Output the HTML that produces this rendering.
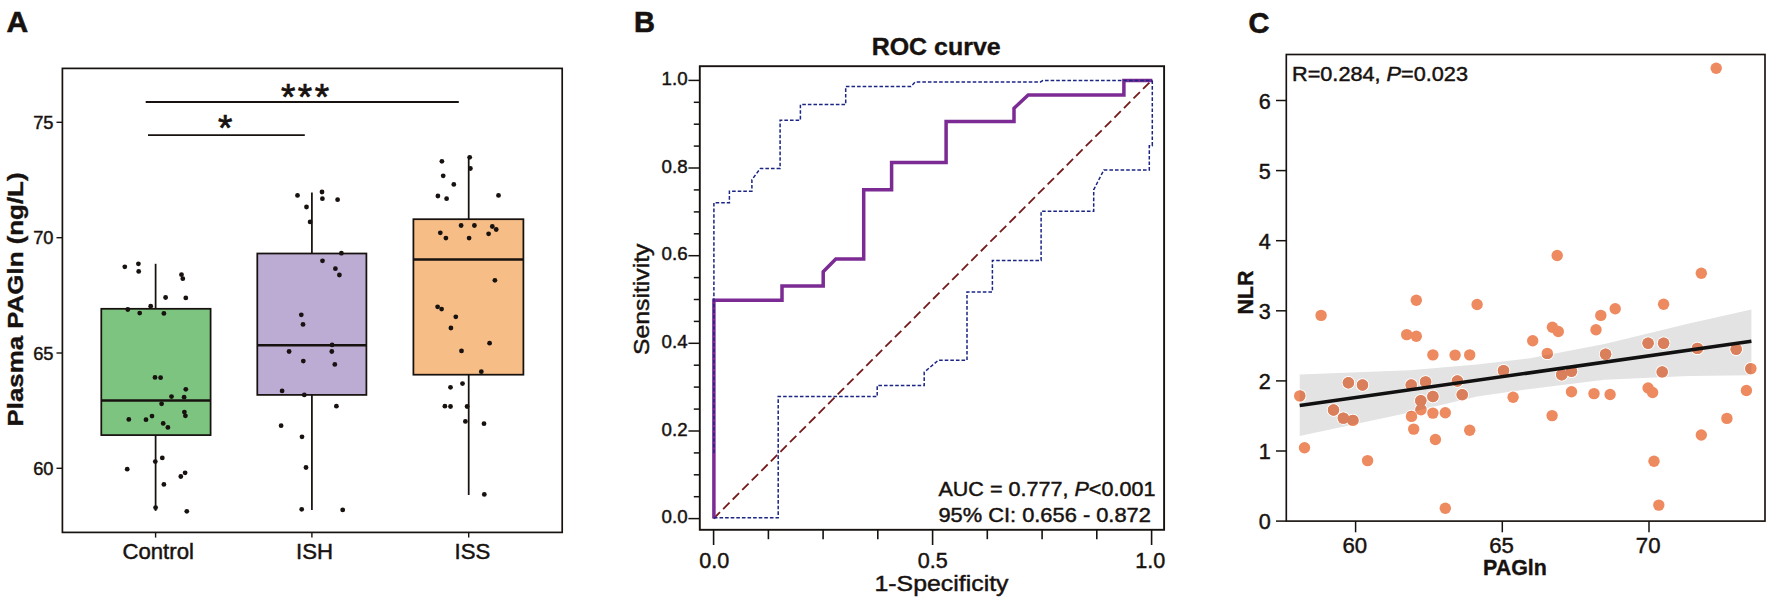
<!DOCTYPE html>
<html><head><meta charset="utf-8"><title>Figure</title>
<style>
html,body{margin:0;padding:0;background:#fff;}
body{width:1772px;height:604px;overflow:hidden;}
svg{display:block;font-family:"Liberation Sans",Arial,sans-serif;}
text{stroke:#17120f;stroke-width:0.45px;paint-order:stroke fill;}
text.b{stroke-width:0.35px;}
text.L{stroke-width:0.6px;}
</style></head><body>
<svg width="1772" height="604" viewBox="0 0 1772 604">
<rect width="1772" height="604" fill="#fff"/>

<g id="panelA" fill="#17120f">
<text x="6.5" y="32" font-size="30" font-weight="bold" class="L">A</text>
<rect x="62.4" y="68.4" width="499.8" height="464" fill="none" stroke="#17120f" stroke-width="1.7"/>
<line x1="56.5" x2="62.4" y1="122.3" y2="122.3" stroke="#17120f" stroke-width="1.4"/>
<text x="53.5" y="128.9" font-size="18.3" text-anchor="end">75</text>
<line x1="56.5" x2="62.4" y1="237.7" y2="237.7" stroke="#17120f" stroke-width="1.4"/>
<text x="53.5" y="244.29999999999998" font-size="18.3" text-anchor="end">70</text>
<line x1="56.5" x2="62.4" y1="353.0" y2="353.0" stroke="#17120f" stroke-width="1.4"/>
<text x="53.5" y="359.6" font-size="18.3" text-anchor="end">65</text>
<line x1="56.5" x2="62.4" y1="468.3" y2="468.3" stroke="#17120f" stroke-width="1.4"/>
<text x="53.5" y="474.90000000000003" font-size="18.3" text-anchor="end">60</text>
<line x1="155.6" x2="155.6" y1="532.4" y2="537.6" stroke="#17120f" stroke-width="1.4"/>
<line x1="311.9" x2="311.9" y1="532.4" y2="537.6" stroke="#17120f" stroke-width="1.4"/>
<line x1="468.7" x2="468.7" y1="532.4" y2="537.6" stroke="#17120f" stroke-width="1.4"/>
<text x="158.2" y="559" font-size="22.2" text-anchor="middle">Control</text>
<text x="314.6" y="559" font-size="22.2" text-anchor="middle">ISH</text>
<text x="472.5" y="559" font-size="22.2" text-anchor="middle">ISS</text>
<text transform="translate(22.6,299.5) rotate(-90)" font-size="21.4" font-weight="bold" class="b" text-anchor="middle" textLength="254" lengthAdjust="spacingAndGlyphs">Plasma PAGln (ng/L)</text>
<line x1="145.7" x2="458.8" y1="102" y2="102" stroke="#17120f" stroke-width="1.9"/>
<line x1="148" x2="304.8" y1="135.1" y2="135.1" stroke="#17120f" stroke-width="1.9"/>
<text x="280.9" y="110.4" font-size="37" letter-spacing="2.5" style="stroke-width:0.7px">***</text>
<text x="218" y="140.7" font-size="37" style="stroke-width:0.7px">*</text>
<line x1="155.6" x2="155.6" y1="263.8" y2="308.8" stroke="#17120f" stroke-width="1.75"/>
<line x1="155.6" x2="155.6" y1="435.1" y2="510.9" stroke="#17120f" stroke-width="1.75"/>
<rect x="101.3" y="308.8" width="109.3" height="126.30000000000001" fill="#7cc47f" stroke="#17120f" stroke-width="1.75"/>
<line x1="101.3" x2="210.6" y1="400.5" y2="400.5" stroke="#17120f" stroke-width="2.5"/>
<line x1="311.9" x2="311.9" y1="192.4" y2="253.5" stroke="#17120f" stroke-width="1.75"/>
<line x1="311.9" x2="311.9" y1="394.9" y2="509.9" stroke="#17120f" stroke-width="1.75"/>
<rect x="257.3" y="253.5" width="109.09999999999997" height="141.39999999999998" fill="#bcacd4" stroke="#17120f" stroke-width="1.75"/>
<line x1="257.3" x2="366.4" y1="345.2" y2="345.2" stroke="#17120f" stroke-width="2.5"/>
<line x1="468.7" x2="468.7" y1="156.6" y2="219.2" stroke="#17120f" stroke-width="1.75"/>
<line x1="468.7" x2="468.7" y1="374.7" y2="495" stroke="#17120f" stroke-width="1.75"/>
<rect x="413.4" y="219.2" width="110.0" height="155.5" fill="#f6bd86" stroke="#17120f" stroke-width="1.75"/>
<line x1="413.4" x2="523.4" y1="259.5" y2="259.5" stroke="#17120f" stroke-width="2.5"/>
<circle cx="124.8" cy="266.8" r="2.4"/>
<circle cx="138.4" cy="263.8" r="2.4"/>
<circle cx="138.7" cy="271.4" r="2.4"/>
<circle cx="181.5" cy="274.7" r="2.4"/>
<circle cx="182.8" cy="278.7" r="2.4"/>
<circle cx="165.6" cy="297.5" r="2.4"/>
<circle cx="185.8" cy="297.9" r="2.4"/>
<circle cx="150.7" cy="306.2" r="2.4"/>
<circle cx="127.8" cy="309.5" r="2.4"/>
<circle cx="139.7" cy="313.1" r="2.4"/>
<circle cx="163.9" cy="313.4" r="2.4"/>
<circle cx="155" cy="377.4" r="2.4"/>
<circle cx="160.6" cy="377.7" r="2.4"/>
<circle cx="185.8" cy="389.3" r="2.4"/>
<circle cx="171.5" cy="396.6" r="2.4"/>
<circle cx="184.1" cy="397.2" r="2.4"/>
<circle cx="161.6" cy="403.8" r="2.4"/>
<circle cx="184.4" cy="412.1" r="2.4"/>
<circle cx="185.4" cy="415.8" r="2.4"/>
<circle cx="152" cy="416.1" r="2.4"/>
<circle cx="128.8" cy="419.4" r="2.4"/>
<circle cx="146" cy="419.7" r="2.4"/>
<circle cx="163.2" cy="423.4" r="2.4"/>
<circle cx="167.9" cy="427.4" r="2.4"/>
<circle cx="127.2" cy="469.2" r="2.4"/>
<circle cx="155.3" cy="461.6" r="2.4"/>
<circle cx="162.3" cy="457.9" r="2.4"/>
<circle cx="185.1" cy="472.8" r="2.4"/>
<circle cx="180.8" cy="476.5" r="2.4"/>
<circle cx="163.9" cy="484.4" r="2.4"/>
<circle cx="155.6" cy="507.6" r="2.4"/>
<circle cx="186.8" cy="511.3" r="2.4"/>
<circle cx="341.4" cy="253.2" r="2.4"/>
<circle cx="322.5" cy="260.8" r="2.4"/>
<circle cx="335.4" cy="268.7" r="2.4"/>
<circle cx="339.4" cy="275" r="2.4"/>
<circle cx="301.3" cy="314.8" r="2.4"/>
<circle cx="303" cy="324.4" r="2.4"/>
<circle cx="332.1" cy="344.9" r="2.4"/>
<circle cx="289.1" cy="351.5" r="2.4"/>
<circle cx="331.8" cy="351.5" r="2.4"/>
<circle cx="303.3" cy="361.1" r="2.4"/>
<circle cx="334.8" cy="364.4" r="2.4"/>
<circle cx="282.1" cy="390.9" r="2.4"/>
<circle cx="304.3" cy="394.9" r="2.4"/>
<circle cx="336.4" cy="406.2" r="2.4"/>
<circle cx="281.1" cy="425.7" r="2.4"/>
<circle cx="302" cy="436.8" r="2.4"/>
<circle cx="306" cy="467.5" r="2.4"/>
<circle cx="301.7" cy="509.3" r="2.4"/>
<circle cx="342.7" cy="509.9" r="2.4"/>
<circle cx="297.5" cy="195.4" r="2.4"/>
<circle cx="322" cy="192" r="2.4"/>
<circle cx="322.4" cy="198.7" r="2.4"/>
<circle cx="337.6" cy="199.7" r="2.4"/>
<circle cx="306.5" cy="207" r="2.4"/>
<circle cx="310.1" cy="221.9" r="2.4"/>
<circle cx="441.9" cy="161.3" r="2.4"/>
<circle cx="469.7" cy="157.3" r="2.4"/>
<circle cx="470.4" cy="168.5" r="2.4"/>
<circle cx="443.2" cy="175.8" r="2.4"/>
<circle cx="453.8" cy="184.4" r="2.4"/>
<circle cx="437.9" cy="196" r="2.4"/>
<circle cx="446.6" cy="198.7" r="2.4"/>
<circle cx="498.5" cy="195.4" r="2.4"/>
<circle cx="461.1" cy="225.5" r="2.4"/>
<circle cx="474.4" cy="225.5" r="2.4"/>
<circle cx="492.3" cy="226.5" r="2.4"/>
<circle cx="496.2" cy="229.5" r="2.4"/>
<circle cx="440.3" cy="232.8" r="2.4"/>
<circle cx="488.6" cy="233.8" r="2.4"/>
<circle cx="445.9" cy="238.1" r="2.4"/>
<circle cx="469.1" cy="238.1" r="2.4"/>
<circle cx="494.9" cy="280.3" r="2.4"/>
<circle cx="437.6" cy="306.8" r="2.4"/>
<circle cx="441.6" cy="309.1" r="2.4"/>
<circle cx="455.8" cy="316.8" r="2.4"/>
<circle cx="450.9" cy="328" r="2.4"/>
<circle cx="489.6" cy="343.2" r="2.4"/>
<circle cx="461.5" cy="350.9" r="2.4"/>
<circle cx="481.3" cy="371.7" r="2.4"/>
<circle cx="462.5" cy="383.6" r="2.4"/>
<circle cx="450.5" cy="387.3" r="2.4"/>
<circle cx="444.9" cy="406.2" r="2.4"/>
<circle cx="450.5" cy="406.5" r="2.4"/>
<circle cx="467.1" cy="406.5" r="2.4"/>
<circle cx="465.4" cy="421.4" r="2.4"/>
<circle cx="484" cy="423.7" r="2.4"/>
<circle cx="484.3" cy="494.4" r="2.4"/>
</g>
<g id="panelB" fill="#17120f">
<text x="634" y="32" font-size="29" font-weight="bold" class="L">B</text>
<text x="936.2" y="55.3" font-size="23" font-weight="bold" class="b" text-anchor="middle" textLength="129" lengthAdjust="spacingAndGlyphs">ROC curve</text>
<rect x="699.8" y="66.2" width="464.3" height="463.6" fill="none" stroke="#17120f" stroke-width="1.9"/>
<line x1="688.4" x2="699.8" y1="518.6" y2="518.6" stroke="#17120f" stroke-width="1.5"/>
<text x="687.6" y="523.2" font-size="19" text-anchor="end" textLength="26" lengthAdjust="spacingAndGlyphs">0.0</text>
<line x1="693.8" x2="699.8" y1="496.7" y2="496.7" stroke="#17120f" stroke-width="1.5"/>
<line x1="693.8" x2="699.8" y1="474.8" y2="474.8" stroke="#17120f" stroke-width="1.5"/>
<line x1="693.8" x2="699.8" y1="452.9" y2="452.9" stroke="#17120f" stroke-width="1.5"/>
<line x1="688.4" x2="699.8" y1="431.0" y2="431.0" stroke="#17120f" stroke-width="1.5"/>
<text x="687.6" y="435.6" font-size="19" text-anchor="end" textLength="26" lengthAdjust="spacingAndGlyphs">0.2</text>
<line x1="693.8" x2="699.8" y1="409.1" y2="409.1" stroke="#17120f" stroke-width="1.5"/>
<line x1="693.8" x2="699.8" y1="387.1" y2="387.1" stroke="#17120f" stroke-width="1.5"/>
<line x1="693.8" x2="699.8" y1="365.2" y2="365.2" stroke="#17120f" stroke-width="1.5"/>
<line x1="688.4" x2="699.8" y1="343.3" y2="343.3" stroke="#17120f" stroke-width="1.5"/>
<text x="687.6" y="347.9" font-size="19" text-anchor="end" textLength="26" lengthAdjust="spacingAndGlyphs">0.4</text>
<line x1="693.8" x2="699.8" y1="321.4" y2="321.4" stroke="#17120f" stroke-width="1.5"/>
<line x1="693.8" x2="699.8" y1="299.5" y2="299.5" stroke="#17120f" stroke-width="1.5"/>
<line x1="693.8" x2="699.8" y1="277.6" y2="277.6" stroke="#17120f" stroke-width="1.5"/>
<line x1="688.4" x2="699.8" y1="255.7" y2="255.7" stroke="#17120f" stroke-width="1.5"/>
<text x="687.6" y="260.3" font-size="19" text-anchor="end" textLength="26" lengthAdjust="spacingAndGlyphs">0.6</text>
<line x1="693.8" x2="699.8" y1="233.8" y2="233.8" stroke="#17120f" stroke-width="1.5"/>
<line x1="693.8" x2="699.8" y1="211.9" y2="211.9" stroke="#17120f" stroke-width="1.5"/>
<line x1="693.8" x2="699.8" y1="189.9" y2="189.9" stroke="#17120f" stroke-width="1.5"/>
<line x1="688.4" x2="699.8" y1="168.0" y2="168.0" stroke="#17120f" stroke-width="1.5"/>
<text x="687.6" y="172.6" font-size="19" text-anchor="end" textLength="26" lengthAdjust="spacingAndGlyphs">0.8</text>
<line x1="693.8" x2="699.8" y1="146.1" y2="146.1" stroke="#17120f" stroke-width="1.5"/>
<line x1="693.8" x2="699.8" y1="124.2" y2="124.2" stroke="#17120f" stroke-width="1.5"/>
<line x1="693.8" x2="699.8" y1="102.3" y2="102.3" stroke="#17120f" stroke-width="1.5"/>
<line x1="688.4" x2="699.8" y1="80.4" y2="80.4" stroke="#17120f" stroke-width="1.5"/>
<text x="687.6" y="85.0" font-size="19" text-anchor="end" textLength="26" lengthAdjust="spacingAndGlyphs">1.0</text>
<line x1="713.6" x2="713.6" y1="529.8" y2="545" stroke="#17120f" stroke-width="1.6"/>
<text x="714.2" y="568" font-size="21.5" text-anchor="middle" textLength="30" lengthAdjust="spacingAndGlyphs">0.0</text>
<line x1="768.4" x2="768.4" y1="529.8" y2="539.2" stroke="#17120f" stroke-width="1.6"/>
<line x1="823.1" x2="823.1" y1="529.8" y2="539.2" stroke="#17120f" stroke-width="1.6"/>
<line x1="877.8" x2="877.8" y1="529.8" y2="539.2" stroke="#17120f" stroke-width="1.6"/>
<line x1="932.6" x2="932.6" y1="529.8" y2="545" stroke="#17120f" stroke-width="1.6"/>
<text x="932.7" y="568" font-size="21.5" text-anchor="middle" textLength="30" lengthAdjust="spacingAndGlyphs">0.5</text>
<line x1="987.3" x2="987.3" y1="529.8" y2="539.2" stroke="#17120f" stroke-width="1.6"/>
<line x1="1042.1" x2="1042.1" y1="529.8" y2="539.2" stroke="#17120f" stroke-width="1.6"/>
<line x1="1096.8" x2="1096.8" y1="529.8" y2="539.2" stroke="#17120f" stroke-width="1.6"/>
<line x1="1151.6" x2="1151.6" y1="529.8" y2="545" stroke="#17120f" stroke-width="1.6"/>
<text x="1150.2" y="568" font-size="21.5" text-anchor="middle" textLength="30" lengthAdjust="spacingAndGlyphs">1.0</text>
<text x="941.5" y="591.3" font-size="22.5" text-anchor="middle" textLength="134" lengthAdjust="spacingAndGlyphs">1-Specificity</text>
<text transform="translate(648.5,299.3) rotate(-90)" font-size="22.5" text-anchor="middle" textLength="111.5" lengthAdjust="spacingAndGlyphs">Sensitivity</text>
<line x1="713.6" y1="518.6" x2="1151.6" y2="80.4" stroke="#741a1a" stroke-width="1.8" stroke-dasharray="9 4.5"/>
<polyline points="713.9,518.6 713.9,300.3 782,300.3 782,286.1 823.2,286.1 823.2,271.8 835.8,259.1 863.7,259.1 863.7,189.8 891.6,189.8 891.6,162.5 946.1,162.5 946.1,121.5 1014,121.5 1014,108.3 1028.2,95 1123.9,95 1123.9,80.6 1152.3,80.6" fill="none" stroke="#7b2b93" stroke-width="3.5" stroke-linejoin="miter"/>
<polyline points="713.9,453 713.9,202.7 729.4,202.7 729.4,191.2 751.9,191.2 751.9,179.7 760.4,168.4 780.1,168.4 780.1,120.2 800.4,120.2 800.4,104.5 845.7,104.5 845.7,86.5 911,86.5 915.2,82 1040.5,82 1043,80.4 1152.3,80.4" fill="none" stroke="#1a2585" stroke-width="1.5" stroke-dasharray="3.6 2"/>
<polyline points="713.9,517.8 778.2,517.8 778.2,396.6 877.2,396.6 877.2,385.5 924.2,385.5 924.2,372.2 938.4,360.2 967,360.2 967,291.9 992.4,291.9 992.4,260.5 1041.1,260.5 1041.1,211.2 1093.7,211.2 1093.7,189.8 1103.8,170 1149.3,170 1149.3,145.7 1152.3,145.7 1152.3,80.4" fill="none" stroke="#1a2585" stroke-width="1.5" stroke-dasharray="3.6 2"/>
<text x="938.4" y="496.2" font-size="20.6" textLength="217" lengthAdjust="spacingAndGlyphs">AUC = 0.777, <tspan font-style="italic">P</tspan>&lt;0.001</text>
<text x="938.4" y="522" font-size="20.6" textLength="212.5" lengthAdjust="spacingAndGlyphs">95% CI: 0.656 - 0.872</text>
</g>
<g id="panelC" fill="#17120f">
<text x="1248.5" y="33" font-size="29" font-weight="bold" class="L">C</text>
<rect x="1286.3" y="54.5" width="478.7" height="466.6" fill="none" stroke="#17120f" stroke-width="1.65"/>
<line x1="1276" x2="1286.3" y1="521.1" y2="521.1" stroke="#17120f" stroke-width="1.5"/>
<text x="1270.8" y="529.3" font-size="21.6" text-anchor="end">0</text>
<line x1="1276" x2="1286.3" y1="451.0" y2="451.0" stroke="#17120f" stroke-width="1.5"/>
<text x="1270.8" y="459.2" font-size="21.6" text-anchor="end">1</text>
<line x1="1276" x2="1286.3" y1="380.9" y2="380.9" stroke="#17120f" stroke-width="1.5"/>
<text x="1270.8" y="389.1" font-size="21.6" text-anchor="end">2</text>
<line x1="1276" x2="1286.3" y1="310.8" y2="310.8" stroke="#17120f" stroke-width="1.5"/>
<text x="1270.8" y="319.0" font-size="21.6" text-anchor="end">3</text>
<line x1="1276" x2="1286.3" y1="240.7" y2="240.7" stroke="#17120f" stroke-width="1.5"/>
<text x="1270.8" y="248.9" font-size="21.6" text-anchor="end">4</text>
<line x1="1276" x2="1286.3" y1="170.6" y2="170.6" stroke="#17120f" stroke-width="1.5"/>
<text x="1270.8" y="178.8" font-size="21.6" text-anchor="end">5</text>
<line x1="1276" x2="1286.3" y1="100.5" y2="100.5" stroke="#17120f" stroke-width="1.5"/>
<text x="1270.8" y="108.7" font-size="21.6" text-anchor="end">6</text>
<line x1="1355.6" x2="1355.6" y1="521.1" y2="532.3" stroke="#17120f" stroke-width="1.5"/>
<text x="1354.8" y="552.5" font-size="22.2" text-anchor="middle">60</text>
<line x1="1502.3" x2="1502.3" y1="521.1" y2="532.3" stroke="#17120f" stroke-width="1.5"/>
<text x="1501.5" y="552.5" font-size="22.2" text-anchor="middle">65</text>
<line x1="1649" x2="1649" y1="521.1" y2="532.3" stroke="#17120f" stroke-width="1.5"/>
<text x="1648.2" y="552.5" font-size="22.2" text-anchor="middle">70</text>
<text x="1515" y="574.8" font-size="21.4" font-weight="bold" class="b" text-anchor="middle">PAGln</text>
<text transform="translate(1253.3,292.6) rotate(-90)" font-size="21.4" font-weight="bold" class="b" text-anchor="middle">NLR</text>
<text x="1292" y="80.8" font-size="19.5" textLength="176" lengthAdjust="spacingAndGlyphs">R=0.284, <tspan font-style="italic">P</tspan>=0.023</text>
<polygon points="1299.7,374.4 1409.5,370.3 1477,364.6 1530,358.2 1604.5,343.9 1689,323.6 1751.4,309.5 1751.4,375.2 1689,375.9 1604.5,379.8 1530,389 1477,396.5 1409.5,412.5 1299.7,435.9" fill="#e3e3e3"/>
<circle cx="1321.1" cy="315.4" r="6.7" fill="#fff"/>
<circle cx="1416.3" cy="300.2" r="6.7" fill="#fff"/>
<circle cx="1477.1" cy="304.5" r="6.7" fill="#fff"/>
<circle cx="1406.7" cy="334.6" r="6.7" fill="#fff"/>
<circle cx="1416.3" cy="336.3" r="6.7" fill="#fff"/>
<circle cx="1432.9" cy="354.9" r="6.7" fill="#fff"/>
<circle cx="1455.1" cy="355.1" r="6.7" fill="#fff"/>
<circle cx="1469.7" cy="354.9" r="6.7" fill="#fff"/>
<circle cx="1503.5" cy="370.6" r="6.7" fill="#fff"/>
<circle cx="1348.4" cy="382.7" r="6.7" fill="#fff"/>
<circle cx="1362.5" cy="385" r="6.7" fill="#fff"/>
<circle cx="1411.2" cy="385" r="6.7" fill="#fff"/>
<circle cx="1425.6" cy="381.9" r="6.7" fill="#fff"/>
<circle cx="1457.4" cy="381" r="6.7" fill="#fff"/>
<circle cx="1299.7" cy="395.9" r="6.7" fill="#fff"/>
<circle cx="1513.1" cy="397.3" r="6.7" fill="#fff"/>
<circle cx="1462.2" cy="394.8" r="6.7" fill="#fff"/>
<circle cx="1432.9" cy="396.5" r="6.7" fill="#fff"/>
<circle cx="1420.8" cy="400.7" r="6.7" fill="#fff"/>
<circle cx="1333.5" cy="410" r="6.7" fill="#fff"/>
<circle cx="1421" cy="409.7" r="6.7" fill="#fff"/>
<circle cx="1343.3" cy="418.1" r="6.7" fill="#fff"/>
<circle cx="1352.9" cy="420.4" r="6.7" fill="#fff"/>
<circle cx="1432.9" cy="413.1" r="6.7" fill="#fff"/>
<circle cx="1445.3" cy="412.8" r="6.7" fill="#fff"/>
<circle cx="1411.5" cy="416.4" r="6.7" fill="#fff"/>
<circle cx="1413.7" cy="429.1" r="6.7" fill="#fff"/>
<circle cx="1469.7" cy="430.2" r="6.7" fill="#fff"/>
<circle cx="1435.4" cy="439.5" r="6.7" fill="#fff"/>
<circle cx="1304.5" cy="447.7" r="6.7" fill="#fff"/>
<circle cx="1367.6" cy="460.6" r="6.7" fill="#fff"/>
<circle cx="1445.3" cy="508.2" r="6.7" fill="#fff"/>
<circle cx="1557.2" cy="255.5" r="6.7" fill="#fff"/>
<circle cx="1701.3" cy="273.2" r="6.7" fill="#fff"/>
<circle cx="1663.6" cy="304.2" r="6.7" fill="#fff"/>
<circle cx="1615.2" cy="308.7" r="6.7" fill="#fff"/>
<circle cx="1600.8" cy="315.4" r="6.7" fill="#fff"/>
<circle cx="1552.4" cy="327.3" r="6.7" fill="#fff"/>
<circle cx="1558.3" cy="331.5" r="6.7" fill="#fff"/>
<circle cx="1596" cy="329.8" r="6.7" fill="#fff"/>
<circle cx="1532.7" cy="340.8" r="6.7" fill="#fff"/>
<circle cx="1547.3" cy="353.4" r="6.7" fill="#fff"/>
<circle cx="1605.6" cy="354.3" r="6.7" fill="#fff"/>
<circle cx="1648.1" cy="343.3" r="6.7" fill="#fff"/>
<circle cx="1663.6" cy="343.3" r="6.7" fill="#fff"/>
<circle cx="1697.4" cy="348.4" r="6.7" fill="#fff"/>
<circle cx="1736.2" cy="349.2" r="6.7" fill="#fff"/>
<circle cx="1750.9" cy="368.6" r="6.7" fill="#fff"/>
<circle cx="1662.2" cy="372" r="6.7" fill="#fff"/>
<circle cx="1571.5" cy="371.2" r="6.7" fill="#fff"/>
<circle cx="1561.7" cy="374.8" r="6.7" fill="#fff"/>
<circle cx="1571.5" cy="391.7" r="6.7" fill="#fff"/>
<circle cx="1594" cy="393.6" r="6.7" fill="#fff"/>
<circle cx="1610.1" cy="394.5" r="6.7" fill="#fff"/>
<circle cx="1648.1" cy="388" r="6.7" fill="#fff"/>
<circle cx="1652.6" cy="392.5" r="6.7" fill="#fff"/>
<circle cx="1746.4" cy="390.5" r="6.7" fill="#fff"/>
<circle cx="1552.1" cy="415.6" r="6.7" fill="#fff"/>
<circle cx="1726.9" cy="418.4" r="6.7" fill="#fff"/>
<circle cx="1701.3" cy="435" r="6.7" fill="#fff"/>
<circle cx="1654" cy="461.2" r="6.7" fill="#fff"/>
<circle cx="1658.8" cy="505.1" r="6.7" fill="#fff"/>
<circle cx="1716.2" cy="68.2" r="6.7" fill="#fff"/>
<circle cx="1321.1" cy="315.4" r="5.7" fill="#ee8a5f"/>
<circle cx="1416.3" cy="300.2" r="5.7" fill="#ee8a5f"/>
<circle cx="1477.1" cy="304.5" r="5.7" fill="#ee8a5f"/>
<circle cx="1406.7" cy="334.6" r="5.7" fill="#ee8a5f"/>
<circle cx="1416.3" cy="336.3" r="5.7" fill="#ee8a5f"/>
<circle cx="1432.9" cy="354.9" r="5.7" fill="#ee8a5f"/>
<circle cx="1455.1" cy="355.1" r="5.7" fill="#ee8a5f"/>
<circle cx="1469.7" cy="354.9" r="5.7" fill="#ee8a5f"/>
<circle cx="1503.5" cy="370.6" r="5.7" fill="#ee8a5f"/>
<circle cx="1348.4" cy="382.7" r="5.7" fill="#ee8a5f"/>
<circle cx="1362.5" cy="385" r="5.7" fill="#ee8a5f"/>
<circle cx="1411.2" cy="385" r="5.7" fill="#ee8a5f"/>
<circle cx="1425.6" cy="381.9" r="5.7" fill="#ee8a5f"/>
<circle cx="1457.4" cy="381" r="5.7" fill="#ee8a5f"/>
<circle cx="1299.7" cy="395.9" r="5.7" fill="#ee8a5f"/>
<circle cx="1513.1" cy="397.3" r="5.7" fill="#ee8a5f"/>
<circle cx="1462.2" cy="394.8" r="5.7" fill="#ee8a5f"/>
<circle cx="1432.9" cy="396.5" r="5.7" fill="#ee8a5f"/>
<circle cx="1420.8" cy="400.7" r="5.7" fill="#ee8a5f"/>
<circle cx="1333.5" cy="410" r="5.7" fill="#ee8a5f"/>
<circle cx="1421" cy="409.7" r="5.7" fill="#ee8a5f"/>
<circle cx="1343.3" cy="418.1" r="5.7" fill="#ee8a5f"/>
<circle cx="1352.9" cy="420.4" r="5.7" fill="#ee8a5f"/>
<circle cx="1432.9" cy="413.1" r="5.7" fill="#ee8a5f"/>
<circle cx="1445.3" cy="412.8" r="5.7" fill="#ee8a5f"/>
<circle cx="1411.5" cy="416.4" r="5.7" fill="#ee8a5f"/>
<circle cx="1413.7" cy="429.1" r="5.7" fill="#ee8a5f"/>
<circle cx="1469.7" cy="430.2" r="5.7" fill="#ee8a5f"/>
<circle cx="1435.4" cy="439.5" r="5.7" fill="#ee8a5f"/>
<circle cx="1304.5" cy="447.7" r="5.7" fill="#ee8a5f"/>
<circle cx="1367.6" cy="460.6" r="5.7" fill="#ee8a5f"/>
<circle cx="1445.3" cy="508.2" r="5.7" fill="#ee8a5f"/>
<circle cx="1557.2" cy="255.5" r="5.7" fill="#ee8a5f"/>
<circle cx="1701.3" cy="273.2" r="5.7" fill="#ee8a5f"/>
<circle cx="1663.6" cy="304.2" r="5.7" fill="#ee8a5f"/>
<circle cx="1615.2" cy="308.7" r="5.7" fill="#ee8a5f"/>
<circle cx="1600.8" cy="315.4" r="5.7" fill="#ee8a5f"/>
<circle cx="1552.4" cy="327.3" r="5.7" fill="#ee8a5f"/>
<circle cx="1558.3" cy="331.5" r="5.7" fill="#ee8a5f"/>
<circle cx="1596" cy="329.8" r="5.7" fill="#ee8a5f"/>
<circle cx="1532.7" cy="340.8" r="5.7" fill="#ee8a5f"/>
<circle cx="1547.3" cy="353.4" r="5.7" fill="#ee8a5f"/>
<circle cx="1605.6" cy="354.3" r="5.7" fill="#ee8a5f"/>
<circle cx="1648.1" cy="343.3" r="5.7" fill="#ee8a5f"/>
<circle cx="1663.6" cy="343.3" r="5.7" fill="#ee8a5f"/>
<circle cx="1697.4" cy="348.4" r="5.7" fill="#ee8a5f"/>
<circle cx="1736.2" cy="349.2" r="5.7" fill="#ee8a5f"/>
<circle cx="1750.9" cy="368.6" r="5.7" fill="#ee8a5f"/>
<circle cx="1662.2" cy="372" r="5.7" fill="#ee8a5f"/>
<circle cx="1571.5" cy="371.2" r="5.7" fill="#ee8a5f"/>
<circle cx="1561.7" cy="374.8" r="5.7" fill="#ee8a5f"/>
<circle cx="1571.5" cy="391.7" r="5.7" fill="#ee8a5f"/>
<circle cx="1594" cy="393.6" r="5.7" fill="#ee8a5f"/>
<circle cx="1610.1" cy="394.5" r="5.7" fill="#ee8a5f"/>
<circle cx="1648.1" cy="388" r="5.7" fill="#ee8a5f"/>
<circle cx="1652.6" cy="392.5" r="5.7" fill="#ee8a5f"/>
<circle cx="1746.4" cy="390.5" r="5.7" fill="#ee8a5f"/>
<circle cx="1552.1" cy="415.6" r="5.7" fill="#ee8a5f"/>
<circle cx="1726.9" cy="418.4" r="5.7" fill="#ee8a5f"/>
<circle cx="1701.3" cy="435" r="5.7" fill="#ee8a5f"/>
<circle cx="1654" cy="461.2" r="5.7" fill="#ee8a5f"/>
<circle cx="1658.8" cy="505.1" r="5.7" fill="#ee8a5f"/>
<circle cx="1716.2" cy="68.2" r="5.7" fill="#ee8a5f"/>
<clipPath id="bandclip"><polygon points="1299.7,374.4 1409.5,370.3 1477,364.6 1530,358.2 1604.5,343.9 1689,323.6 1751.4,309.5 1751.4,375.2 1689,375.9 1604.5,379.8 1530,389 1477,396.5 1409.5,412.5 1299.7,435.9"/></clipPath>
<g clip-path="url(#bandclip)">
<circle cx="1321.1" cy="315.4" r="5.7" fill="#d97f5c"/>
<circle cx="1416.3" cy="300.2" r="5.7" fill="#d97f5c"/>
<circle cx="1477.1" cy="304.5" r="5.7" fill="#d97f5c"/>
<circle cx="1406.7" cy="334.6" r="5.7" fill="#d97f5c"/>
<circle cx="1416.3" cy="336.3" r="5.7" fill="#d97f5c"/>
<circle cx="1432.9" cy="354.9" r="5.7" fill="#d97f5c"/>
<circle cx="1455.1" cy="355.1" r="5.7" fill="#d97f5c"/>
<circle cx="1469.7" cy="354.9" r="5.7" fill="#d97f5c"/>
<circle cx="1503.5" cy="370.6" r="5.7" fill="#d97f5c"/>
<circle cx="1348.4" cy="382.7" r="5.7" fill="#d97f5c"/>
<circle cx="1362.5" cy="385" r="5.7" fill="#d97f5c"/>
<circle cx="1411.2" cy="385" r="5.7" fill="#d97f5c"/>
<circle cx="1425.6" cy="381.9" r="5.7" fill="#d97f5c"/>
<circle cx="1457.4" cy="381" r="5.7" fill="#d97f5c"/>
<circle cx="1299.7" cy="395.9" r="5.7" fill="#d97f5c"/>
<circle cx="1513.1" cy="397.3" r="5.7" fill="#d97f5c"/>
<circle cx="1462.2" cy="394.8" r="5.7" fill="#d97f5c"/>
<circle cx="1432.9" cy="396.5" r="5.7" fill="#d97f5c"/>
<circle cx="1420.8" cy="400.7" r="5.7" fill="#d97f5c"/>
<circle cx="1333.5" cy="410" r="5.7" fill="#d97f5c"/>
<circle cx="1421" cy="409.7" r="5.7" fill="#d97f5c"/>
<circle cx="1343.3" cy="418.1" r="5.7" fill="#d97f5c"/>
<circle cx="1352.9" cy="420.4" r="5.7" fill="#d97f5c"/>
<circle cx="1432.9" cy="413.1" r="5.7" fill="#d97f5c"/>
<circle cx="1445.3" cy="412.8" r="5.7" fill="#d97f5c"/>
<circle cx="1411.5" cy="416.4" r="5.7" fill="#d97f5c"/>
<circle cx="1413.7" cy="429.1" r="5.7" fill="#d97f5c"/>
<circle cx="1469.7" cy="430.2" r="5.7" fill="#d97f5c"/>
<circle cx="1435.4" cy="439.5" r="5.7" fill="#d97f5c"/>
<circle cx="1663.6" cy="304.2" r="5.7" fill="#d97f5c"/>
<circle cx="1615.2" cy="308.7" r="5.7" fill="#d97f5c"/>
<circle cx="1600.8" cy="315.4" r="5.7" fill="#d97f5c"/>
<circle cx="1552.4" cy="327.3" r="5.7" fill="#d97f5c"/>
<circle cx="1558.3" cy="331.5" r="5.7" fill="#d97f5c"/>
<circle cx="1596" cy="329.8" r="5.7" fill="#d97f5c"/>
<circle cx="1532.7" cy="340.8" r="5.7" fill="#d97f5c"/>
<circle cx="1547.3" cy="353.4" r="5.7" fill="#d97f5c"/>
<circle cx="1605.6" cy="354.3" r="5.7" fill="#d97f5c"/>
<circle cx="1648.1" cy="343.3" r="5.7" fill="#d97f5c"/>
<circle cx="1663.6" cy="343.3" r="5.7" fill="#d97f5c"/>
<circle cx="1697.4" cy="348.4" r="5.7" fill="#d97f5c"/>
<circle cx="1736.2" cy="349.2" r="5.7" fill="#d97f5c"/>
<circle cx="1750.9" cy="368.6" r="5.7" fill="#d97f5c"/>
<circle cx="1662.2" cy="372" r="5.7" fill="#d97f5c"/>
<circle cx="1571.5" cy="371.2" r="5.7" fill="#d97f5c"/>
<circle cx="1561.7" cy="374.8" r="5.7" fill="#d97f5c"/>
<circle cx="1571.5" cy="391.7" r="5.7" fill="#d97f5c"/>
<circle cx="1594" cy="393.6" r="5.7" fill="#d97f5c"/>
<circle cx="1610.1" cy="394.5" r="5.7" fill="#d97f5c"/>
<circle cx="1648.1" cy="388" r="5.7" fill="#d97f5c"/>
<circle cx="1652.6" cy="392.5" r="5.7" fill="#d97f5c"/>
<circle cx="1746.4" cy="390.5" r="5.7" fill="#d97f5c"/>
<circle cx="1552.1" cy="415.6" r="5.7" fill="#d97f5c"/>
<circle cx="1726.9" cy="418.4" r="5.7" fill="#d97f5c"/>
<circle cx="1701.3" cy="435" r="5.7" fill="#d97f5c"/>
</g>
<line x1="1299.7" y1="405.5" x2="1751.4" y2="341.3" stroke="#111" stroke-width="3.5"/>
</g>
</svg></body></html>
